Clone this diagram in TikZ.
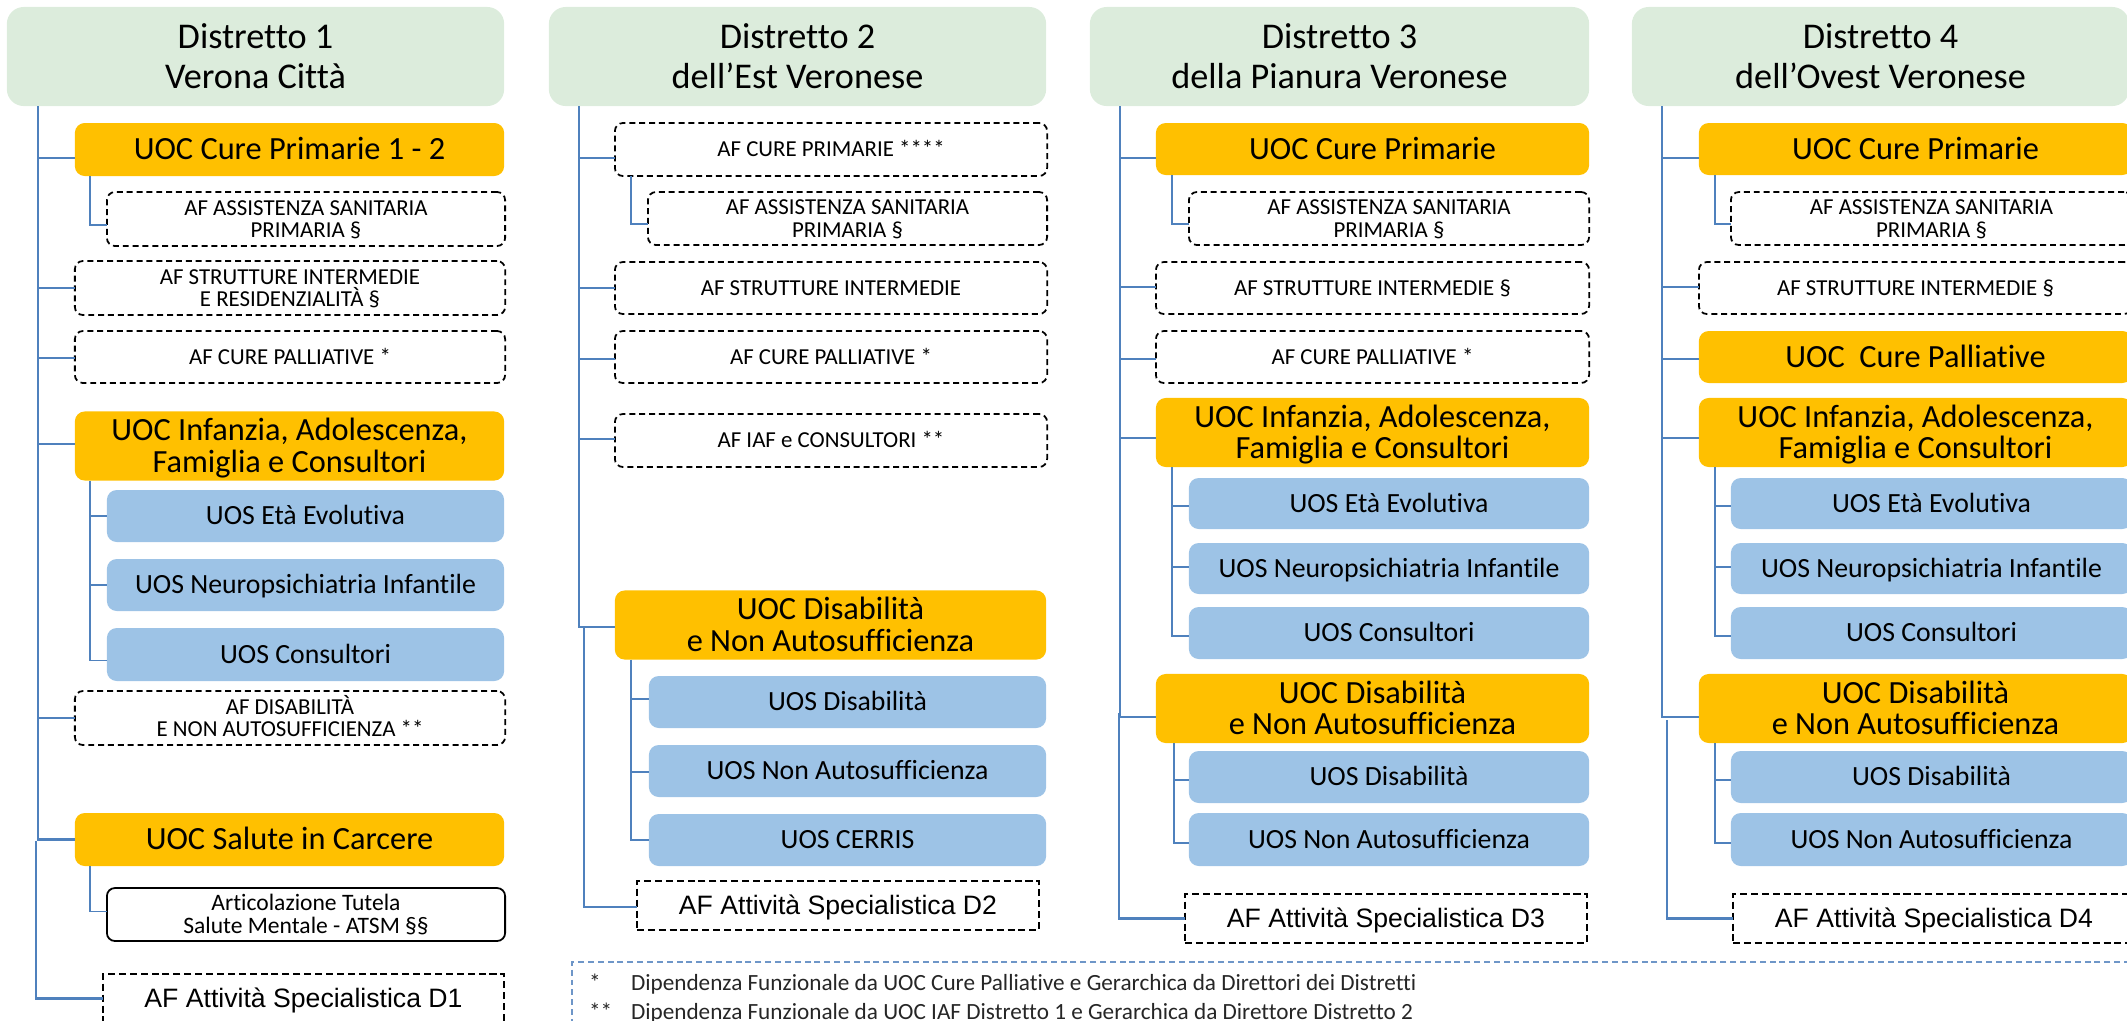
\documentclass[tikz,border=0pt]{standalone}
\usepackage{fontspec}
\setmainfont{Carlito}[Ligatures={NoCommon}]
\newfontfamily\arialf{Liberation Sans}[Ligatures={NoCommon}]
\usetikzlibrary{calc}
\definecolor{hdrgreen}{RGB}{220,236,220}
\definecolor{uocor}{RGB}{255,192,0}
\definecolor{uosbl}{RGB}{157,195,230}
\definecolor{connbl}{RGB}{79,129,189}
\definecolor{legbl}{RGB}{110,150,200}
\def\mydep{.256em}
\newcommand\topst{\rule{0pt}{.9em}}
\newcommand\botst{\rule[-\mydep]{0pt}{\mydep}}
\newcommand\mybox[7]{%
 \pgfmathsetmacro\mycx{(#3+#5)/2}%
 \pgfmathsetmacro\mycy{(#4+#6)/2}%
 \pgfmathsetmacro\myw{(#5-#3)/100}%
 \pgfmathsetmacro\myh{(#6-#4)/100}%
 \node[#1,minimum width=\myw cm,minimum height=\myh cm] (#2) at (\mycx,\mycy) {\topst #7\botst};}
\newcommand\mybranch[4][conn]{\draw[#1] ($(#2 |- #3.west)+(0,#4)$) -- ($(#3.west)+(0,#4)$);}
\tikzset{
 basebox/.style={inner sep=0pt, outer sep=0pt, align=center},
 hdr/.style={basebox, fill=hdrgreen, rounded corners=4.8pt, font=\fontsize{10.3pt}{11.4pt}\selectfont},
 uoc/.style={basebox, fill=uocor, rounded corners=2.8pt, font=\fontsize{9.2pt}{9pt}\selectfont},
 uos/.style={basebox, fill=uosbl, rounded corners=2.8pt, font=\fontsize{7.9pt}{8pt}\selectfont},
 afd/.style={basebox, draw=black, line width=0.5pt, dash pattern=on 1.7pt off 1.1pt, rounded corners=2.3pt, font=\fontsize{6.5pt}{6.35pt}\selectfont},
 sol/.style={basebox, draw=black, line width=0.5pt, rounded corners=2.3pt, font=\fontsize{6.7pt}{6.4pt}\selectfont},
 afa/.style={basebox, draw=black, line width=0.5pt, dash pattern=on 2pt off 1.1pt, font=\arialf\fontsize{7.57pt}{8pt}\selectfont\def\mydep{.184em}},
 conn/.style={draw=connbl, line width=0.6pt},
 subc/.style={draw=connbl, line width=0.45pt},
 legbox/.style={draw=legbl, line width=0.6pt, dash pattern=on 1.7pt off 1.1pt, inner sep=0pt, outer sep=0pt},
 legtxt/.style={inner sep=0pt, outer sep=0pt, font=\fontsize{6.6pt}{8pt}\selectfont, text=black!85},
}
\begin{document}
\lineskiplimit=-100pt
\begin{tikzpicture}[x=0.01cm, y=-0.01cm]
\useasboundingbox (0,0) rectangle (2127,1020);
\clip (0,0) rectangle (2127,1020);
% ---------------- Column 1
\mybox{hdr}{h1}{7}{7}{504}{106}{Distretto 1\\Verona Città}
\mybox{uoc}{c1a}{75}{123}{504}{176}{UOC Cure Primarie 1 - 2}
\mybox{afd}{c1b}{107}{192}{505}{246}{AF ASSISTENZA SANITARIA\\PRIMARIA §}
\mybox{afd}{c1c}{75}{261}{505}{315}{AF STRUTTURE INTERMEDIE\\E RESIDENZIALITÀ §}
\mybox{afd}{c1d}{75}{331}{505}{383}{AF CURE PALLIATIVE *}
\mybox{uoc}{c1e}{75}{413}{504}{479}{UOC Infanzia, Adolescenza,\\Famiglia e Consultori}
\mybox{uos}{c1f}{107}{490}{504}{542}{UOS Età Evolutiva}
\mybox{uos}{c1g}{107}{559}{504}{611}{UOS Neuropsichiatria Infantile}
\mybox{uos}{c1h}{107}{628}{504}{681}{UOS Consultori}
\mybox{afd}{c1i}{75}{691}{505}{745}{AF DISABILITÀ\\E NON AUTOSUFFICIENZA **}
\mybox{uoc}{c1j}{75}{813}{504}{866}{UOC Salute in Carcere}
\mybox{sol}{c1k}{107}{888}{505}{941}{Articolazione Tutela\\Salute Mentale - ATSM §§}
\mybox{afa}{c1l}{103}{974}{504}{1023}{AF Attività Specialistica D1}
\coordinate (t1) at (38,106);
\coordinate (t1b) at (36,841);
\coordinate (s1) at (90,0);
\draw[conn] (t1) |- (c1j.west);
\mybranch{t1}{c1a}{8.5}
\mybranch{t1}{c1c}{0}
\mybranch{t1}{c1d}{1}
\mybranch{t1}{c1e}{-2}
\mybranch{t1}{c1i}{0}
\draw[conn] (t1b) |- (c1l.west);
\draw[subc] (c1a.south -| s1) |- ($(c1b.west)+(0,6)$);
\draw[subc] (c1e.south -| s1) |- ($(c1h.west)+(0,6)$);
\mybranch[subc]{s1}{c1f}{0}
\mybranch[subc]{s1}{c1g}{0}
\draw[subc] (c1j.south -| s1) |- ($(c1k.west)+(0,-3)$);
% ---------------- Column 2
\mybox{hdr}{h2}{549}{7}{1046}{106}{Distretto 2\\dell’Est Veronese}
\mybox{afd}{c2a}{615}{123}{1047}{176}{AF CURE PRIMARIE ****}
\mybox{afd}{c2b}{648}{192}{1047}{245}{AF ASSISTENZA SANITARIA\\PRIMARIA §}
\mybox{afd}{c2c}{615}{262}{1047}{314}{AF STRUTTURE INTERMEDIE}
\mybox{afd}{c2d}{615}{331}{1047}{383}{AF CURE PALLIATIVE *}
\mybox{afd}{c2e}{615}{414}{1047}{467}{AF IAF e CONSULTORI **}
\mybox{uoc}{c2f}{615}{592}{1046}{658}{UOC Disabilità\\e Non Autosufficienza}
\mybox{uos}{c2g}{649}{676}{1046}{728}{UOS Disabilità}
\mybox{uos}{c2h}{649}{745}{1046}{797}{UOS Non Autosufficienza}
\mybox{uos}{c2i}{649}{814}{1046}{866}{UOS CERRIS}
\mybox{afa}{c2j}{637}{881}{1039}{930}{AF Attività Specialistica D2}
\coordinate (t2) at (579,106);
\coordinate (t2b) at (584,627);
\coordinate (s2) at (631,0);
\draw[conn] (t2) |- ($(c2f.west)+(0,2)$);
\mybranch{t2}{c2a}{8.5}
\mybranch{t2}{c2c}{0}
\mybranch{t2}{c2d}{2}
\mybranch{t2}{c2e}{-1.5}
\draw[conn] (t2b) |- ($(c2j.west)+(0,1.5)$);
\draw[subc] (c2a.south -| s2) |- ($(c2b.west)+(0,5.5)$);
\draw[subc] (c2f.south -| s2) |- (c2i.west);
\mybranch[subc]{s2}{c2g}{-3}
\mybranch[subc]{s2}{c2h}{1}
% ---------------- Column 3
\mybox{hdr}{h3}{1090}{7}{1589}{106}{Distretto 3\\della Pianura Veronese}
\mybox{uoc}{c3a}{1156}{123}{1589}{175}{UOC Cure Primarie}
\mybox{afd}{c3b}{1189}{192}{1589}{245}{AF ASSISTENZA SANITARIA\\PRIMARIA §}
\mybox{afd}{c3c}{1156}{262}{1589}{314}{AF STRUTTURE INTERMEDIE §}
\mybox{afd}{c3d}{1156}{331}{1589}{383}{AF CURE PALLIATIVE *}
\mybox{uoc}{c3e}{1156}{400}{1589}{465}{UOC Infanzia, Adolescenza,\\Famiglia e Consultori}
\mybox{uos}{c3f}{1189}{478}{1589}{529}{UOS Età Evolutiva}
\mybox{uos}{c3g}{1189}{543}{1589}{594}{UOS Neuropsichiatria Infantile}
\mybox{uos}{c3h}{1189}{607}{1589}{659}{UOS Consultori}
\mybox{uoc}{c3i}{1156}{676}{1589}{741}{UOC Disabilità\\e Non Autosufficienza}
\mybox{uos}{c3j}{1189}{751}{1589}{803}{UOS Disabilità}
\mybox{uos}{c3k}{1189}{813}{1589}{866}{UOS Non Autosufficienza}
\mybox{afa}{c3l}{1185}{894}{1587}{943}{AF Attività Specialistica D3}
\coordinate (t3) at (1120,106);
\coordinate (t3b) at (1118.6,713);
\coordinate (s3) at (1172,0);
\coordinate (s3b) at (1173.7,0);
\draw[conn] (t3) |- ($(c3i.west)+(0,8.5)$);
\mybranch{t3}{c3a}{9}
\mybranch{t3}{c3c}{-1}
\mybranch{t3}{c3d}{2}
\mybranch{t3}{c3e}{5.5}
\draw[conn] (t3b) |- (c3l.west);
\draw[subc] (c3a.south -| s3) |- ($(c3b.west)+(0,5.5)$);
\draw[subc] (c3e.south -| s3) |- ($(c3h.west)+(0,3)$);
\mybranch[subc]{s3}{c3f}{2.5}
\mybranch[subc]{s3}{c3g}{-1.5}
\draw[subc] (c3i.south -| s3b) |- ($(c3k.west)+(0,3.5)$);
\mybranch[subc]{s3b}{c3j}{3}
% ---------------- Column 4
\mybox{hdr}{h4}{1632}{7}{2129}{106}{Distretto 4\\dell’Ovest Veronese}
\mybox{uoc}{c4a}{1699}{123}{2132}{175}{UOC Cure Primarie}
\mybox{afd}{c4b}{1731}{192}{2132}{245}{AF ASSISTENZA SANITARIA\\PRIMARIA §}
\mybox{afd}{c4c}{1699}{262}{2132}{314}{AF STRUTTURE INTERMEDIE §}
\mybox{uoc}{c4d}{1699}{331}{2132}{383}{UOC\ \ Cure Palliative}
\mybox{uoc}{c4e}{1699}{400}{2132}{465}{UOC Infanzia, Adolescenza,\\Famiglia e Consultori}
\mybox{uos}{c4f}{1731}{478}{2132}{529}{UOS Età Evolutiva}
\mybox{uos}{c4g}{1731}{543}{2132}{594}{UOS Neuropsichiatria Infantile}
\mybox{uos}{c4h}{1731}{607}{2132}{659}{UOS Consultori}
\mybox{uoc}{c4i}{1699}{676}{2132}{741}{UOC Disabilità\\e Non Autosufficienza}
\mybox{uos}{c4j}{1731}{751}{2132}{803}{UOS Disabilità}
\mybox{uos}{c4k}{1731}{813}{2132}{866}{UOS Non Autosufficienza}
\mybox{afa}{c4l}{1733}{894}{2135}{943}{AF Attività Specialistica D4}
\coordinate (t4) at (1662,106);
\coordinate (t4b) at (1667,720);
\coordinate (s4) at (1715,0);
\draw[conn] (t4) |- ($(c4i.west)+(0,8.5)$);
\mybranch{t4}{c4a}{9}
\mybranch{t4}{c4c}{-1}
\mybranch{t4}{c4d}{2}
\mybranch{t4}{c4e}{5.5}
\draw[conn] (t4b) |- (c4l.west);
\draw[subc] (c4a.south -| s4) |- ($(c4b.west)+(0,5.5)$);
\draw[subc] (c4e.south -| s4) |- ($(c4h.west)+(0,3)$);
\mybranch[subc]{s4}{c4f}{2.5}
\mybranch[subc]{s4}{c4g}{-1.5}
\draw[subc] (c4i.south -| s4) |- ($(c4k.west)+(0,3.5)$);
\mybranch[subc]{s4}{c4j}{3}
% ---------------- Legend
\node[legbox, minimum width=15.7cm, minimum height=0.9cm, anchor=north west] (leg) at (572,962) {};
\node[legtxt, anchor=base west] (l1a) at (589,990) {*};
\node[legtxt, anchor=base west] (l1b) at (631,990) {Dipendenza Funzionale da UOC Cure Palliative e Gerarchica da Direttori dei Distretti};
\node[legtxt, anchor=base west] (l2a) at (589,1019) {**};
\node[legtxt, anchor=base west] (l2b) at (631,1019) {Dipendenza Funzionale da UOC IAF Distretto 1 e Gerarchica da Direttore Distretto 2};
\end{tikzpicture}
\end{document}
